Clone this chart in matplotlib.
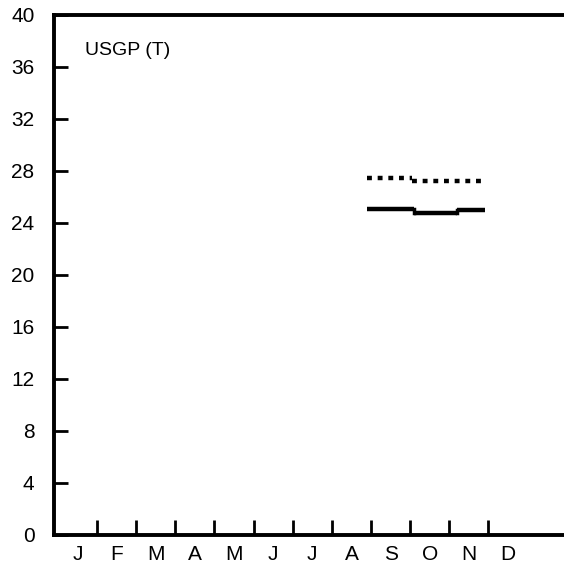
import numpy as np
import matplotlib.pyplot as plt

plt.rcParams['font.family'] = ['Liberation Sans', 'DejaVu Sans']

months = ["J", "F", "M", "A", "M", "J", "J", "A", "S", "O", "N", "D"]

# step series, x in month units (0 = start of Jan)
solid_edges = [7.9, 9.1, 10.2, 10.9]
solid_vals = [25.1, 24.8, 25.0]
dot_edges = [7.9, 9.05, 10.9]
dot_vals = [27.5, 27.2]

fig = plt.figure(figsize=(5.64, 5.67), dpi=100)
ax = fig.add_axes([54 / 564, 32 / 567, 510 / 564, 520 / 567])

for i, v in enumerate(solid_vals):
    ax.plot([solid_edges[i], solid_edges[i + 1]], [v, v], color="black", lw=3.2,
            solid_capstyle="butt")
for i in range(len(solid_vals) - 1):
    ax.plot([solid_edges[i + 1]] * 2, [solid_vals[i], solid_vals[i + 1]], color="black", lw=2.5)

for i, v in enumerate(dot_vals):
    ax.plot([dot_edges[i], dot_edges[i + 1]], [v, v], color="black", lw=3.2,
            linestyle=(0, (1.1, 1.3)))

ax.set_xlim(-0.1, 12.93)
ax.set_ylim(0, 40)

ax.set_yticks(np.arange(0, 41, 4))
ax.set_xticks(np.arange(1, 12))
ax.set_xticklabels([])
ax.set_xticks(np.arange(12) + 0.5, minor=True)
ax.set_xticklabels(months, minor=True)
ax.tick_params(axis="x", which="major", direction="in", length=11, width=2)
ax.tick_params(axis="x", which="minor", length=0, pad=7, labelsize=15)
ax.tick_params(axis="y", direction="in", length=10, width=2, labelsize=15, pad=14)

for s in ["left", "bottom", "top"]:
    ax.spines[s].set_linewidth(2.8)
ax.spines["right"].set_visible(False)

ax.text(0.7, 37.3, "USGP (T)", fontsize=14, va="center", ha="left")

fig.savefig("out.png", dpi=100)
